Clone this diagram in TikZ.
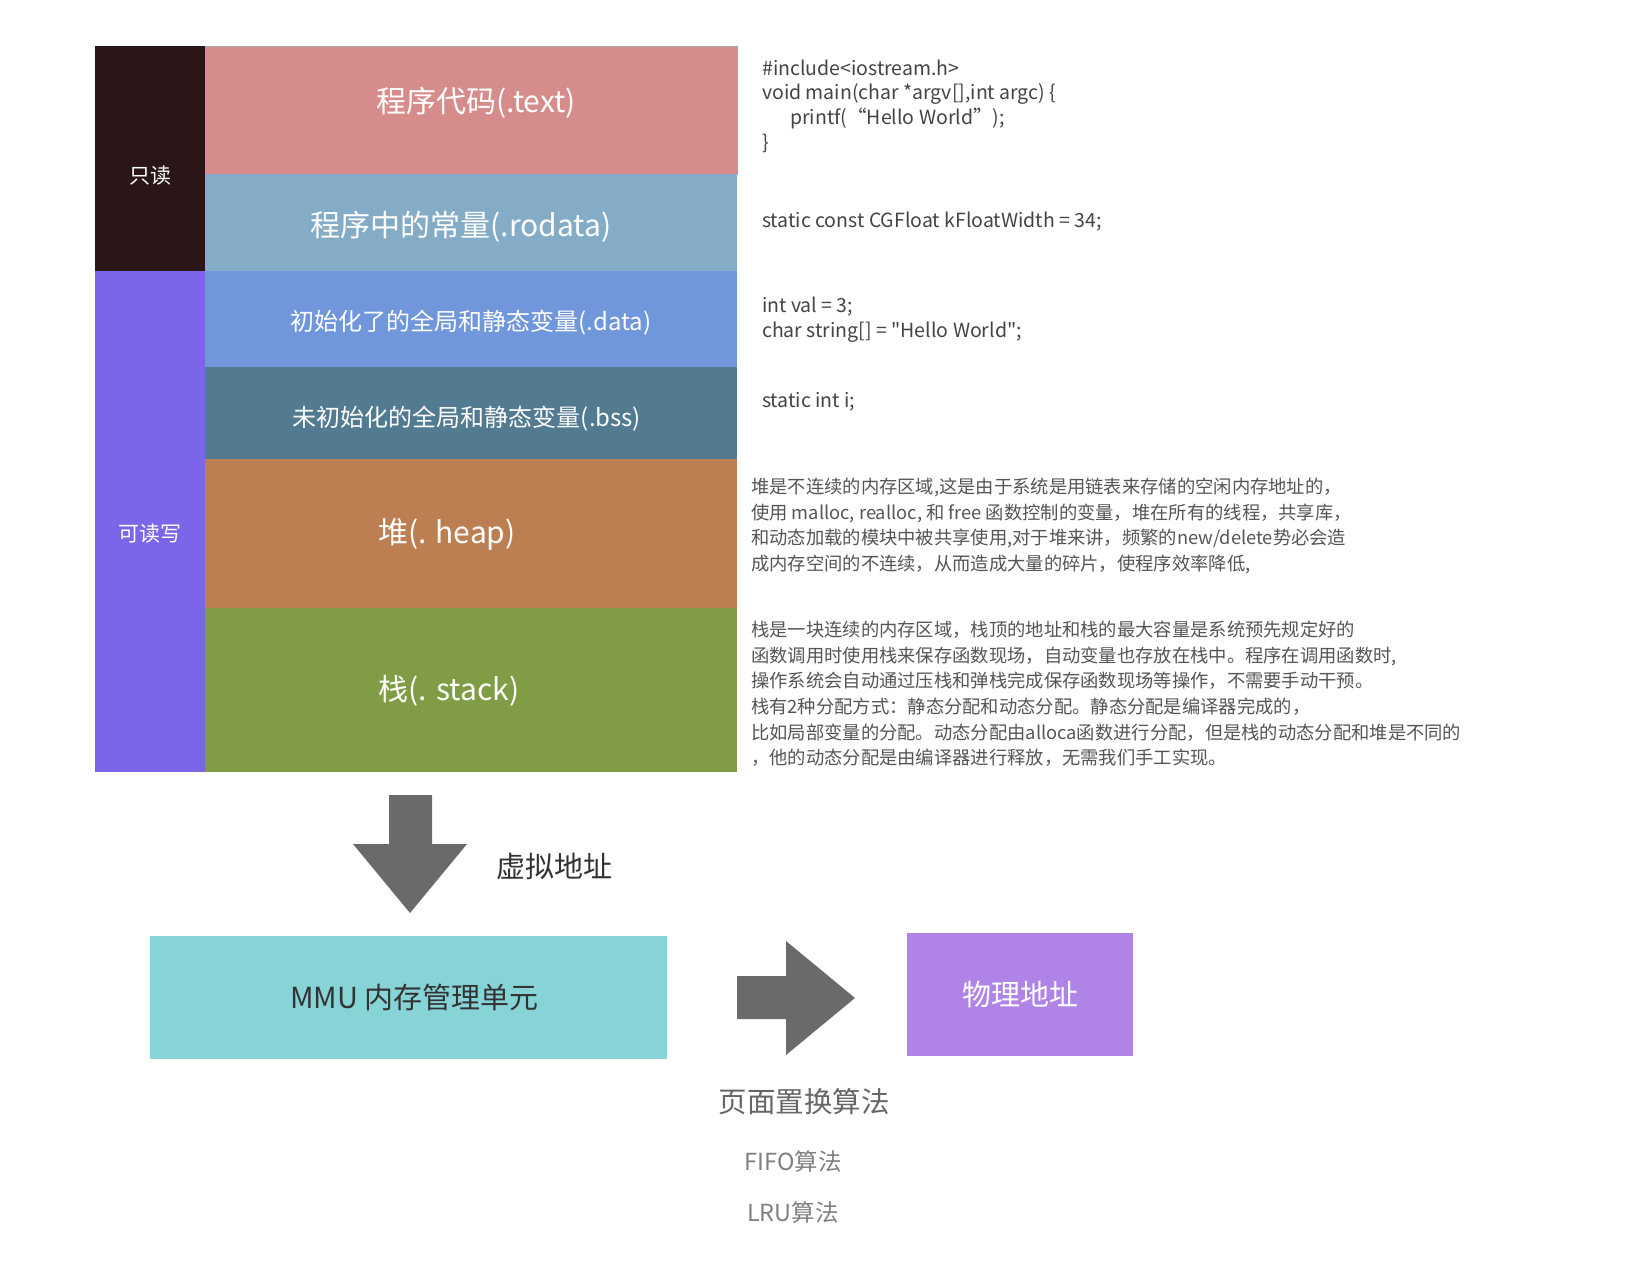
\documentclass[tikz,border=0pt]{standalone}
\usepackage{fontspec}
\setmainfont{Noto Sans CJK SC}
\newfontfamily\codefont{Noto Sans CJK SC}
\usepackage{tikz}
\usetikzlibrary{positioning}

\definecolor{rocolor}{HTML}{2A1616}
\definecolor{rwcolor}{HTML}{7B65E8}
\definecolor{codeseg}{HTML}{D68C8B}
\definecolor{rodataseg}{HTML}{84ACC7}
\definecolor{dataseg}{HTML}{7096DB}
\definecolor{bssseg}{HTML}{527B91}
\definecolor{heapseg}{HTML}{BC7F51}
\definecolor{stackseg}{HTML}{809D45}
\definecolor{arrowgray}{HTML}{6B6A6B}
\definecolor{mmucolor}{HTML}{87D4D6}
\definecolor{physcolor}{HTML}{AF84E6}
\definecolor{codegray}{HTML}{444444}
\definecolor{notegray}{HTML}{555555}
\definecolor{darktext}{HTML}{333333}

\begin{document}
\begin{tikzpicture}[x=1pt, y=-1pt]
        % Define block styles
        \tikzstyle{colbox} = [rectangle, anchor=north west, inner sep=0pt, outer sep=0pt, minimum width=110pt]
        \tikzstyle{segbox} = [rectangle, inner sep=0pt, outer sep=0pt, minimum width=532pt]
        \tikzstyle{collabel} = [text=white, font=\fontsize{21}{25}\selectfont]
        \tikzstyle{biglabel} = [text=white, font=\fontsize{30}{36}\selectfont]
        \tikzstyle{smalllabel} = [text=white, font=\fontsize{24}{29}\selectfont]
        \tikzstyle{bigbox} = [rectangle, anchor=north west, inner sep=0pt, outer sep=0pt, minimum height=123pt, font=\fontsize{29}{35}\selectfont]
        \tikzstyle{codetext} = [anchor=west, align=left, inner sep=0pt, text=codegray, font=\codefont\fontsize{19.5}{24.7}\selectfont]
        \tikzstyle{notetext} = [anchor=west, align=left, inner sep=0pt, text=notegray, font=\fontsize{18.3}{25.6}\selectfont]
        \tikzstyle{blockarrow} = [fill=arrowgray]

        \path[use as bounding box, fill=white] (0,0) rectangle (1642,1274);

        % Define nodes
        \node [colbox, minimum height=225pt, fill=rocolor, label={[collabel, yshift=-17pt]center:只读}] (readonly) at (95,46) {};
        \node [colbox, minimum height=501pt, fill=rwcolor, label={[collabel, yshift=-12pt]center:可读写}] (readwrite) at (95,271) {};
        \node [segbox, anchor=north west, minimum height=128pt, fill=codeseg, draw=gray!70, line width=1pt, label={[biglabel, xshift=5pt, yshift=7pt]center:程序代码(.text)}] (code) at (readonly.north east) {};
        \node [segbox, minimum height=97pt, fill=rodataseg, below=0pt of code, label={[biglabel, xshift=-10pt, yshift=-4pt]center:程序中的常量(.rodata)}] (rodata) {};
        \node [segbox, minimum height=96pt, fill=dataseg, below=0pt of rodata, label={[smalllabel, yshift=-4pt]center:初始化了的全局和静态变量(.data)}] (data) {};
        \node [segbox, minimum height=92pt, fill=bssseg, below=0pt of data, label={[smalllabel, xshift=-4pt, yshift=-6pt]center:未初始化的全局和静态变量(.bss)}] (bss) {};
        \node [segbox, minimum height=149pt, fill=heapseg, below=0pt of bss, label={[biglabel, xshift=-24pt, yshift=-1pt]center:堆(. heap)}] (heap) {};
        \node [segbox, minimum height=164pt, fill=stackseg, below=0pt of heap, label={[biglabel, xshift=-22pt, yshift=-1pt]center:栈(. stack)}] (stack) {};

        \node [codetext] (src) at (762,106) {\#include<iostream.h>\\void main(char *argv[],int argc) \{\\\hspace*{28pt}printf(“Hello World”);\\\}};
        \node [codetext] (constdecl) at (762,222) {static const CGFloat kFloatWidth = 34;};
        \node [codetext] (datadecl) at (762,320) {int val = 3;\\char string[] = "Hello World";};
        \node [codetext] (bssdecl) at (762,402) {static int i;};

        \node [notetext] (heapnote) at (751,526) {堆是不连续的内存区域,这是由于系统是用链表来存储的空闲内存地址的，\\
使用 malloc, realloc, 和 free 函数控制的变量，堆在所有的线程，共享库，\\
和动态加载的模块中被共享使用,对于堆来讲，频繁的new/delete势必会造\\
成内存空间的不连续，从而造成大量的碎片，使程序效率降低,};
        \node [notetext] (stacknote) at (751,694) {栈是一块连续的内存区域，栈顶的地址和栈的最大容量是系统预先规定好的\\
函数调用时使用栈来保存函数现场，自动变量也存放在栈中。程序在调用函数时,\\
操作系统会自动通过压栈和弹栈完成保存函数现场等操作，不需要手动干预。\\
栈有2种分配方式：静态分配和动态分配。静态分配是编译器完成的，\\
比如局部变量的分配。动态分配由alloca函数进行分配，但是栈的动态分配和堆是不同的\\
，他的动态分配是由编译器进行释放，无需我们手工实现。};

        \node [bigbox, minimum width=517pt, fill=mmucolor, text=darktext] (mmu) at (150,936) {\hspace*{12pt}MMU 内存管理单元};
        \node [bigbox, minimum width=226pt, fill=physcolor, text=white] (phys) at (907,933) {物理地址};
        \node [text=darktext, font=\fontsize{29}{35}\selectfont] (virt) at (554,866) {虚拟地址};
        \node [text=black!60, font=\fontsize{28.5}{34}\selectfont] (algo) at (804,1102) {页面置换算法};
        \node [text=black!50, font=\fontsize{23.5}{28}\selectfont] (fifo) at (793,1162) {FIFO算法};
        \node [text=black!50, font=\fontsize{23.5}{28}\selectfont] (lru) at (793,1213) {LRU算法};

        % Block arrows between the parts
        \fill[blockarrow] (389,795) -- (432,795) -- (432,844) -- (467,844) -- (410,913) -- (353,844) -- (389,844) -- cycle;
        \fill[blockarrow] (737,976) -- (786,976) -- (786,941) -- (855,998) -- (786,1055) -- (786,1019) -- (737,1019) -- cycle;

    \end{tikzpicture}
\end{document}
